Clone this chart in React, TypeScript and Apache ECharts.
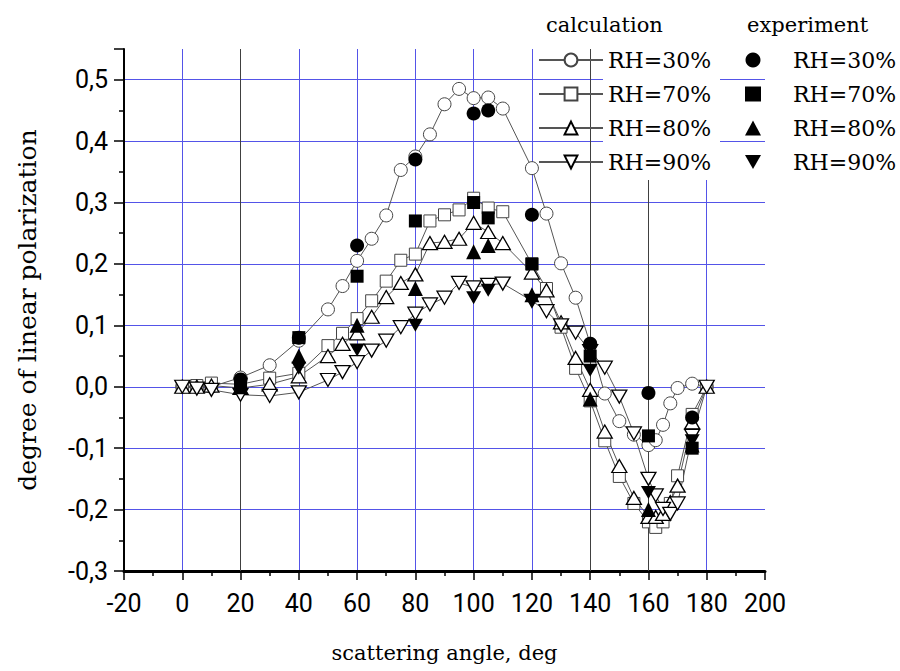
import React, { useEffect, useRef } from 'react';
import * as echarts from 'echarts';

// scattering angles (deg) of the calculated curves
const calcAngles = [0, 5, 10, 20, 30, 40, 50, 55, 60, 65, 70, 75, 80, 85, 90, 95, 100, 105, 110,
  120, 125, 130, 135, 140, 145, 150, 155, 160, 162.5, 165, 167.5, 170, 175, 180];
const calc30 = [0, 0, 0, 0.015, 0.035, 0.075, 0.126, 0.164, 0.205, 0.241, 0.279, 0.353, 0.375, 0.411, 0.46, 0.485, 0.47, 0.471, 0.453,
  0.356, 0.282, 0.201, 0.145, 0.07, -0.011, -0.056, -0.078, -0.095, -0.087, -0.062, -0.027, -0.002, 0.005, 0];
const calc70 = [0, 0.002, 0.006, 0.004, 0.014, 0.022, 0.067, 0.087, 0.111, 0.14, 0.172, 0.206, 0.216, 0.27, 0.28, 0.288, 0.307, 0.291, 0.285,
  0.2, 0.16, 0.097, 0.03, -0.023, -0.088, -0.146, -0.19, -0.22, -0.229, -0.22, -0.19, -0.145, -0.045, 0];
const calc80 = [0, 0, 0.002, -0.002, 0.004, 0.017, 0.05, 0.07, 0.087, 0.114, 0.146, 0.169, 0.183, 0.234, 0.236, 0.241, 0.267, 0.252, 0.234,
  0.186, 0.157, 0.105, 0.047, -0.005, -0.073, -0.129, -0.181, -0.212, -0.212, -0.207, -0.188, -0.161, -0.058, 0];
const calc90 = [0, -0.003, -0.005, -0.013, -0.015, -0.009, 0.011, 0.024, 0.04, 0.059, 0.075, 0.097, 0.119, 0.134, 0.145, 0.169, 0.162, 0.166, 0.168,
  0.14, 0.123, 0.1, 0.088, 0.058, 0.031, -0.016, -0.076, -0.15, -0.177, -0.199, -0.207, -0.19, -0.08, 0];

// experimental points
const expAngles = [20, 40, 60, 80, 100, 105, 120, 140, 160, 175];
const exp30 = [0.012, 0.08, 0.23, 0.37, 0.445, 0.45, 0.28, 0.07, -0.01, -0.05];
const exp70 = [0.005, 0.08, 0.18, 0.27, 0.3, 0.275, 0.2, 0.05, -0.08, -0.1];
const exp80 = [0, 0.05, 0.1, 0.16, 0.22, 0.23, 0.15, -0.02, -0.2, -0.095];
const exp90 = [0.004, 0.03, 0.06, 0.1, 0.145, 0.157, 0.14, 0.027, -0.172, -0.088];

const rhLabels = ['RH=30%', 'RH=70%', 'RH=80%', 'RH=90%'];
const grayVerticals = [20, 140, 160];

const DOWN_TRI = 'path://M0,0L20,0L10,17.32Z';
const BLUE = '#5454e8';
const SERIF = 'DejaVu Serif';
const SANS = 'Roboto';

export default function App() {
  const ref = useRef<HTMLDivElement>(null);
  useEffect(() => {
    const chart = echarts.init(ref.current!, null, { renderer: 'svg' });
    const pair = (xs: number[], ys: number[]) => xs.map((x, i) => [x, ys[i]]);
    const calcSymbols: any[] = ['circle', 'rect', 'triangle', DOWN_TRI];
    const calcSizes: any[] = [13, 12, [15, 13], [15, 13]];
    const calcData = [calc30, calc70, calc80, calc90];
    const expData = [exp30, exp70, exp80, exp90];
    const expSizes: any[] = [14, 13, 15, 15];
    const calcNames = rhLabels.map((l) => 'calc ' + l);
    const expNames = rhLabels.map((l) => 'exp ' + l);

    const series: any[] = calcData.map((d, i) => ({
      name: calcNames[i],
      type: 'line',
      data: pair(calcAngles, d),
      symbol: calcSymbols[i],
      symbolSize: calcSizes[i],
      symbolKeepAspect: false,
      showAllSymbol: true,
      silent: true,
      lineStyle: { color: '#555555', width: 1 },
      itemStyle: { color: '#ffffff', borderColor: i < 2 ? '#444444' : '#000000', borderWidth: i < 2 ? 1 : 1.3, opacity: 1 },
      z: 2,
      markLine: i === 0 ? {
        silent: true,
        symbol: 'none',
        z: 1,
        label: { show: false },
        lineStyle: { color: '#404040', width: 1, type: 'solid' },
        data: grayVerticals.map((v) => ({ xAxis: v })),
      } : undefined,
    }));
    [3, 2, 1, 0].forEach((i) => {
      series.push({
        name: expNames[i],
        type: 'scatter',
        data: pair(expAngles, expData[i]),
        symbol: calcSymbols[i],
        symbolSize: expSizes[i],
        symbolKeepAspect: true,
        silent: true,
        itemStyle: { color: '#000000', opacity: 1 },
        z: 3,
      });
    });

    const fmtName = (n: string) => n.replace(/^(calc|exp) /, '');

    chart.setOption({
      animation: false,
      backgroundColor: '#ffffff',
      grid: { left: 124, right: 135, top: 49, bottom: 100, containLabel: false, outerBoundsMode: 'none' },
      xAxis: {
        type: 'value', min: -20, max: 200, interval: 20,
        name: 'scattering angle, deg', nameLocation: 'middle', nameGap: 71,
        nameTextStyle: { fontFamily: SERIF, fontSize: 21, color: '#000' },
        axisLine: { show: true, onZero: false, lineStyle: { color: '#000', width: 3 } },
        axisTick: { show: true, inside: false, length: 9, lineStyle: { color: '#000', width: 1.5 } },
        minorTick: { show: true, splitNumber: 2, length: 5, lineStyle: { color: '#000', width: 1.5 } },
        axisLabel: { fontFamily: SANS, fontSize: 25, color: '#000', margin: 20 },
        splitLine: { show: true, showMinLine: false, showMaxLine: false, lineStyle: { color: BLUE, width: 1 } },
      },
      yAxis: {
        type: 'value', min: -0.3, max: 0.55, interval: 0.1,
        name: 'degree of linear polarization', nameLocation: 'middle', nameGap: 84,
        nameTextStyle: { fontFamily: SERIF, fontSize: 25, color: '#000' },
        axisLine: { show: true, onZero: false, lineStyle: { color: '#000', width: 2 } },
        axisTick: { show: true, inside: false, length: 10, lineStyle: { color: '#000', width: 1.5 } },
        minorTick: { show: true, splitNumber: 2, length: 5, lineStyle: { color: '#000', width: 1.5 } },
        axisLabel: {
          fontFamily: SANS, fontSize: 25, color: '#000', margin: 16,
          formatter: (v: number) => {
            const t = v * 10;
            if (Math.abs(t - Math.round(t)) > 1e-6) return '';
            return (Math.round(t) / 10).toFixed(1).replace('.', ',');
          },
        },
        splitLine: { show: true, showMinLine: false, showMaxLine: false, lineStyle: { color: BLUE, width: 1 } },
      },
      legend: [
        {
          data: calcNames, orient: 'vertical', left: 538, top: 46, padding: 0,
          itemWidth: 64, itemHeight: 16, itemGap: 6, selectedMode: false,
          formatter: fmtName, textStyle: { fontFamily: SERIF, fontSize: 22, color: '#000', lineHeight: 28 }, z: 5,
        },
        {
          data: expNames, orient: 'vertical', left: 745, top: 46, padding: 0,
          itemWidth: 16, itemHeight: 15, itemGap: 6, selectedMode: false,
          formatter: fmtName, textStyle: { fontFamily: SERIF, fontSize: 22, color: '#000', lineHeight: 28, padding: [0, 0, 0, 27] }, z: 5,
        },
      ],
      graphic: [
        { type: 'rect', silent: true, z: 3, shape: { x: 603, y: 44, width: 117, height: 136 }, style: { fill: '#ffffff' } },
        { type: 'text', silent: true, z: 5, x: 546, y: 25, style: { text: 'calculation', fontFamily: SERIF, fontSize: 21, fill: '#000', verticalAlign: 'middle', align: 'left' } },
        { type: 'text', silent: true, z: 5, x: 747, y: 25, style: { text: 'experiment', fontFamily: SERIF, fontSize: 21, fill: '#000', verticalAlign: 'middle', align: 'left' } },
      ],
      series,
    });
    return () => chart.dispose();
  }, []);
  return <div ref={ref} style={{ position: 'absolute', left: 0, top: 0, width: 900, height: 671 }} />;
}
